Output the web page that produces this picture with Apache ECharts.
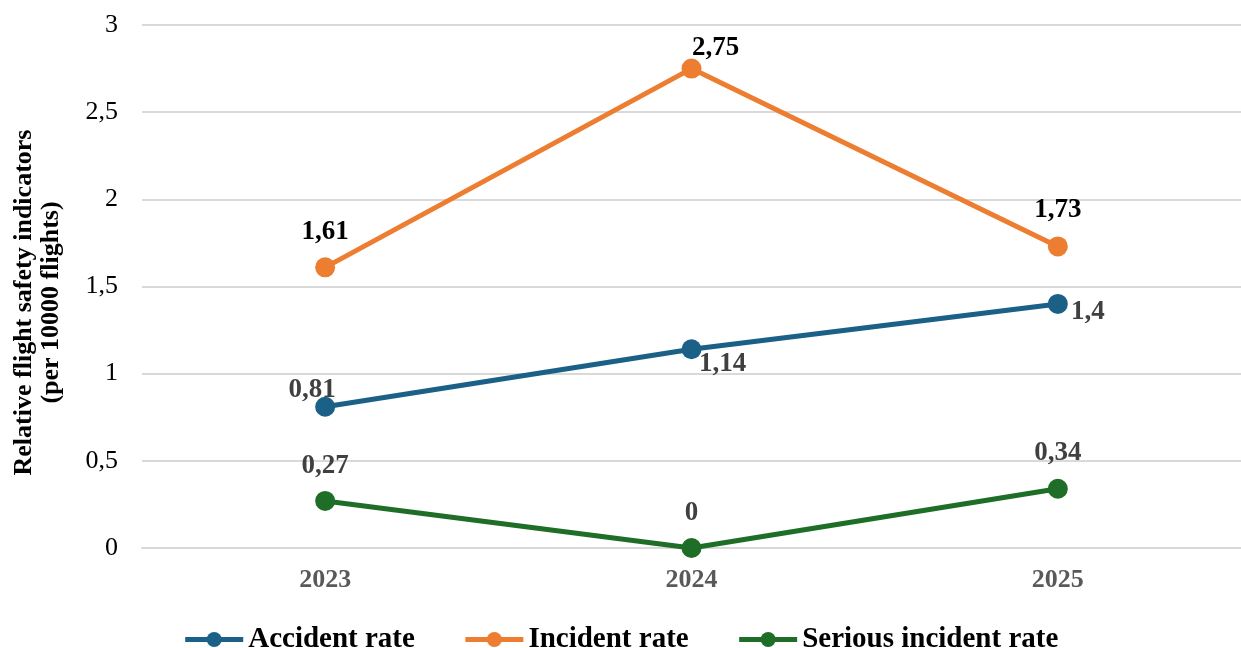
<!DOCTYPE html>
<html>
<head>
<meta charset="utf-8">
<script src="https://cdn.jsdelivr.net/npm/echarts@6/dist/echarts.min.js"></script>
<style>
  html, body { margin: 0; padding: 0; background: #ffffff; }
  #chart { width: 1241px; height: 648px; }
</style>
</head>
<body>
<div id="chart"></div>
<script>
// Flight safety rates per 10000 flights, by year
const years = ['2023', '2024', '2025'];
const accidentRate = [0.81, 1.14, 1.4];
const incidentRate = [1.61, 2.75, 1.73];
const seriousIncidentRate = [0.27, 0, 0.34];
const seriesNames = ['Accident rate', 'Incident rate', 'Serious incident rate'];
const yTitle = 'Relative flight safety indicators\n(per 10000 flights)';

const FONT = "'Liberation Serif', 'Times New Roman', serif";
const colors = ['#1B6187', '#ED7D31', '#1E6E28'];

// per-point label placement (pixel offsets from the marker centre)
const accidentOffsets = [[-13, -17], [31, 15], [30, 8]];
const incidentOffsets = [[0, -35], [24, -21], [0, -36]];
const seriousOffsets = [[0, -35], [0, -35], [0, -36]];

const fmt = v => String(v).replace('.', ',');

function build(values, offsets) {
  return values.map((v, i) => ({
    value: v,
    label: { offset: offsets[i] }
  }));
}

function makeSeries(name, values, offsets, color, labelColor) {
  return {
    name: name,
    type: 'line',
    data: build(values, offsets),
    symbol: 'circle',
    symbolSize: 20,
    lineStyle: { width: 5, color: color },
    itemStyle: { color: color },
    label: {
      show: true,
      position: 'inside',
      formatter: p => fmt(p.value),
      fontFamily: FONT,
      fontWeight: 'bold',
      fontSize: 27,
      color: labelColor
    },
    emphasis: { disabled: true },
    animation: false
  };
}

const chart = echarts.init(document.getElementById('chart'), null, { renderer: 'canvas' });
chart.setOption({
  backgroundColor: '#ffffff',
  color: colors,
  grid: { left: 142, right: 0, top: 25, bottom: 100, containLabel: false, outerBoundsMode: 'none' },
  legend: {
    top: 620,
    left: 'center',
    itemWidth: 58,
    itemHeight: 19,
    itemGap: 48,
    lineStyle: { width: 5 },
    textStyle: { fontFamily: FONT, fontWeight: 'bold', fontSize: 29, color: '#000000' },
    data: seriesNames
  },
  xAxis: {
    type: 'category',
    data: years,
    boundaryGap: true,
    axisLine: { show: true, lineStyle: { color: '#d9d9d9', width: 2 } },
    axisTick: { show: false },
    axisLabel: { fontFamily: FONT, fontWeight: 'bold', fontSize: 26, color: '#595959', margin: 19 }
  },
  yAxis: {
    type: 'value',
    min: 0,
    max: 3,
    interval: 0.5,
    name: yTitle,
    nameLocation: 'middle',
    nameRotate: 90,
    nameGap: 77,
    nameTextStyle: {
      fontFamily: FONT, fontWeight: 'bold', fontSize: 26, color: '#000000',
      lineHeight: 27, padding: [0, 32, 0, 0]
    },
    axisLine: { show: false },
    axisTick: { show: false },
    splitLine: { lineStyle: { color: '#d9d9d9', width: 2 } },
    axisLabel: {
      fontFamily: FONT, fontSize: 26, color: '#000000', margin: 24,
      formatter: v => fmt(v)
    }
  },
  series: [
    makeSeries(seriesNames[0], accidentRate, accidentOffsets, colors[0], '#404040'),
    makeSeries(seriesNames[1], incidentRate, incidentOffsets, colors[1], '#000000'),
    makeSeries(seriesNames[2], seriousIncidentRate, seriousOffsets, colors[2], '#404040')
  ]
});
</script>
</body>
</html>
